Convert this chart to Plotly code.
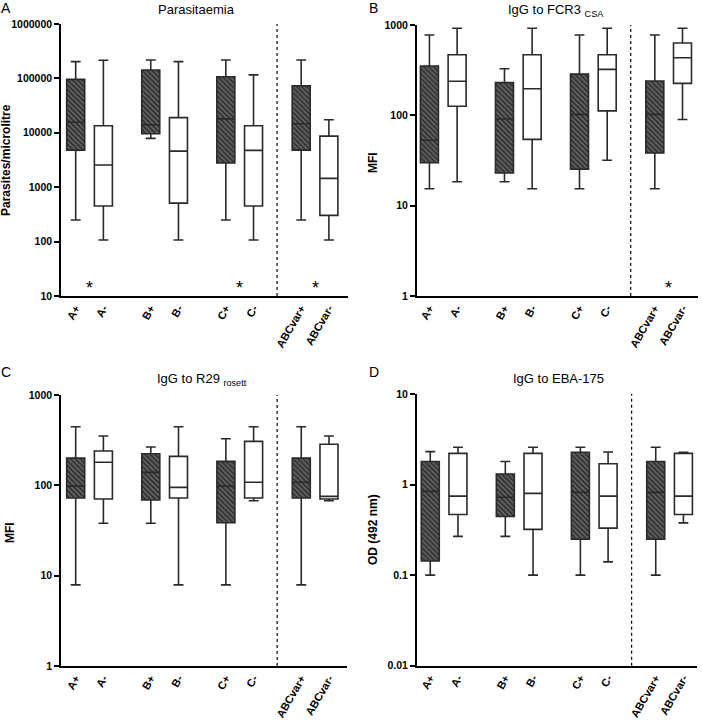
import math
import plotly.graph_objects as go

# ---------------- data ----------------
categories = ["A+", "A-", "B+", "B-", "C+", "C-", "ABCvar+", "ABCvar-"]

para_low = [250, 107, 7900, 107, 250, 107, 250, 107]
para_q1 = [4800, 450, 9600, 510, 2790, 450, 4800, 304]
para_med = [15600, 2560, 14100, 4600, 18000, 4760, 14700, 1455]
para_q3 = [96000, 13500, 143000, 19000, 107000, 13500, 73000, 8700]
para_high = [203000, 215000, 218000, 203000, 218000, 116000, 218000, 17400]

fcr3_low = [15.4, 18.4, 18.4, 15.4, 15.4, 31.8, 15.4, 90]
fcr3_q1 = [29.9, 126, 23, 54.2, 25.4, 112, 38.3, 226]
fcr3_med = [52.9, 238, 91, 197, 102.6, 323, 102.6, 434]
fcr3_q3 = [352, 469, 230, 469, 286, 469, 240, 632]
fcr3_high = [774, 919, 328, 919, 774, 919, 774, 919]

r29_low = [7.9, 38, 38, 7.9, 7.9, 67.6, 7.9, 67.6]
r29_q1 = [72.3, 70.5, 68.7, 72.3, 38.5, 72.3, 72.3, 70.5]
r29_med = [98, 180, 139, 95, 98, 108, 108, 75.5]
r29_q3 = [200, 240, 224, 209, 184, 307, 200, 285]
r29_high = [446, 352, 266, 446, 328, 446, 446, 352]

eba_low = [0.1, 0.268, 0.268, 0.1, 0.1, 0.14, 0.1, 0.378]
eba_q1 = [0.143, 0.468, 0.444, 0.32, 0.25, 0.33, 0.25, 0.468]
eba_med = [0.84, 0.746, 0.723, 0.80, 0.82, 0.746, 0.82, 0.746]
eba_q3 = [1.80, 2.21, 1.31, 2.21, 2.27, 1.70, 1.80, 2.21]
eba_high = [2.31, 2.58, 1.80, 2.58, 2.58, 2.29, 2.58, 2.27]

para_ticks = [10, 100, 1000, 10000, 100000, 1000000]
mfi_ticks = [1, 10, 100, 1000]
od_ticks = [0.01, 0.1, 1, 10]

# significant pairs (marked by *)
para_sig = ["A", "C", "ABCvar"]
fcr3_sig = ["ABCvar"]
r29_sig = []
eba_sig = []

# ---------------- layout constants ----------------
W, H = 702, 720
POS = [0, 1, 2.71, 3.71, 5.42, 6.42, 8.14, 9.14]
DIVIDER = 7.27
BOXW = 0.65
FONT = "Liberation Sans, Arial, sans-serif"
LINE = "#2a2a2a"

panels = [
    dict(low=para_low, q1=para_q1, med=para_med, q3=para_q3, high=para_high,
         ticks=para_ticks, sig=para_sig, xdom=(61, 348), ydom=(24, 296),
         xr=(-0.53, 9.83), title="Parasitaemia", tx=196, ty=10, letter="A", lx=6, ly=8,
         ytitle="Parasites/microlitre", ytx=6, yty=160, ast_y=1.15),
    dict(low=fcr3_low, q1=fcr3_q1, med=fcr3_med, q3=fcr3_q3, high=fcr3_high,
         ticks=mfi_ticks, sig=fcr3_sig, xdom=(416.7, 698), ydom=(25, 296),
         xr=(-0.46, 9.70), title="IgG to FCR3 <sub>CSA</sub>", tx=556, ty=11, letter="B", lx=374, ly=8,
         ytitle="MFI", ytx=373, yty=163, ast_y=0.09),
    dict(low=r29_low, q1=r29_q1, med=r29_med, q3=r29_q3, high=r29_high,
         ticks=mfi_ticks, sig=r29_sig, xdom=(61, 347), ydom=(395, 666),
         xr=(-0.53, 9.79), title="IgG to R29 <sub>rosett</sub>", tx=202, ty=379, letter="C", lx=6, ly=372,
         ytitle="MFI", ytx=10, yty=533, ast_y=0.11),
    dict(low=eba_low, q1=eba_q1, med=eba_med, q3=eba_q3, high=eba_high,
         ticks=od_ticks, sig=eba_sig, xdom=(416.7, 697), ydom=(394, 665.7),
         xr=(-0.49, 9.63), title="IgG to EBA-175", tx=558, ty=378, letter="D", lx=374, ly=372,
         ytitle="OD (492 nm)", ytx=373, yty=530, ast_y=-1.9),
]


def fx(p):
    return p / W


def fy(p):
    return 1 - p / H


def fmt(v):
    if v >= 1:
        return str(int(round(v)))
    return ("%g" % v)


fig = go.Figure()
annotations = []
shapes = []
layout = {}

for i, pn in enumerate(panels):
    n = "" if i == 0 else str(i + 1)
    xa, ya = "x" + n, "y" + n
    hatched = [c.endswith("+") for c in categories]

    # hatched fill for the "+" groups (bars from q1 to q3)
    hx = [POS[k] for k in range(len(categories)) if hatched[k]]
    hb = [pn["q1"][k] for k in range(len(categories)) if hatched[k]]
    hy = [pn["q3"][k] - pn["q1"][k] for k in range(len(categories)) if hatched[k]]
    fig.add_trace(go.Bar(
        x=hx, y=hy, base=hb, width=BOXW, xaxis=xa, yaxis=ya, showlegend=False,
        marker=dict(color="#555555", line=dict(width=0),
                    pattern=dict(shape="\\", fgcolor="#2b2b2b", bgcolor="#656565",
                                 size=3.5, solidity=0.45, fillmode="replace")),
        hoverinfo="skip"))

    for k, c in enumerate(categories):
        fig.add_trace(go.Box(
            x=[POS[k]], q1=[pn["q1"][k]], median=[pn["med"][k]], q3=[pn["q3"][k]],
            lowerfence=[pn["low"][k]], upperfence=[pn["high"][k]],
            width=BOXW, whiskerwidth=0.55, boxpoints=False, name=c,
            fillcolor="rgba(0,0,0,0)" if hatched[k] else "white",
            line=dict(color=LINE, width=1.6),
            xaxis=xa, yaxis=ya, showlegend=False))

    layout["xaxis" + n] = dict(
        domain=[fx(pn["xdom"][0]), fx(pn["xdom"][1])], range=list(pn["xr"]),
        anchor=ya, showline=True, linecolor="black", linewidth=1.5,
        showgrid=False, zeroline=False, ticks="", automargin=False,
        tickvals=POS, ticktext=categories, tickangle=-60,
        tickfont=dict(family=FONT, size=11, color="black", weight="bold"))
    layout["yaxis" + n] = dict(
        domain=[fy(pn["ydom"][1]), fy(pn["ydom"][0])], type="log",
        range=[math.log10(pn["ticks"][0]), math.log10(pn["ticks"][-1])],
        anchor=xa, showline=True, linecolor="black", linewidth=1.5, automargin=False,
        showgrid=False, zeroline=False, ticks="outside", ticklen=5, tickwidth=1.5,
        tickcolor="black", tickvals=pn["ticks"], ticktext=[fmt(t) for t in pn["ticks"]],
        tickfont=dict(family=FONT, size=10.5, color="black", weight="bold"))

    # divider
    shapes.append(dict(type="line", xref=xa, yref=ya + " domain", x0=DIVIDER, x1=DIVIDER,
                       y0=0, y1=1, line=dict(color="black", width=1.2, dash="dot")))

    # asterisks between significant pairs
    prefixes = [c[:-1] for c in categories]
    for grp in pn["sig"]:
        idx = [k for k, p in enumerate(prefixes) if p == grp]
        mid = (POS[idx[0]] + POS[idx[-1]]) / 2
        annotations.append(dict(x=mid, y=pn["ast_y"], xref=xa, yref=ya, text="*",
                                showarrow=False, font=dict(family=FONT, size=18, color="black")))

    annotations.append(dict(x=fx(pn["tx"]), y=fy(pn["ty"]), xref="paper", yref="paper",
                            text=pn["title"], showarrow=False, xanchor="center", yanchor="middle",
                            font=dict(family=FONT, size=13, color="black")))
    annotations.append(dict(x=fx(pn["lx"]), y=fy(pn["ly"]), xref="paper", yref="paper",
                            text=pn["letter"], showarrow=False, xanchor="center", yanchor="middle",
                            font=dict(family=FONT, size=14, color="black")))
    annotations.append(dict(x=fx(pn["ytx"]), y=fy(pn["yty"]), xref="paper", yref="paper",
                            text="<b>" + pn["ytitle"] + "</b>", showarrow=False, textangle=-90,
                            xanchor="center", yanchor="middle",
                            font=dict(family=FONT, size=12, color="black")))

fig.update_layout(
    width=W, height=H, autosize=False,
    margin=dict(l=0, r=0, t=0, b=0, pad=0, autoexpand=False),
    paper_bgcolor="white", plot_bgcolor="white",
    barmode="overlay", boxmode="overlay",
    annotations=annotations, shapes=shapes,
    font=dict(family=FONT, color="black"),
    **layout)

fig.write_html("out.html", config={"displayModeBar": False},
               post_script="document.body.style.margin='0';document.body.style.padding='0';")
